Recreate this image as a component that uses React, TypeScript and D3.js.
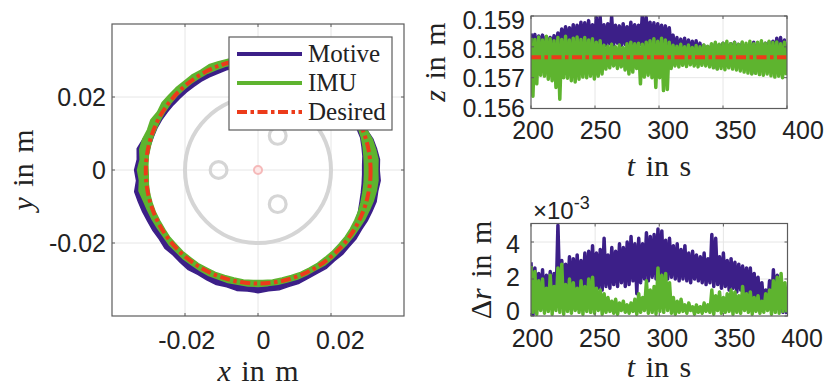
import React from "react";
import * as d3 from "d3";

// ---------------- Left panel: x-y trajectory ----------------
// Radii (mm, measured from the origin) of the trace band, sampled every 5 deg (0..355)
const angleStep = 5;
const motiveOuterMm = [
  33.2, 33.4, 33.0, 32.6, 31.8, 31.2, 30.8, 30.7, 30.6, 30.6, 30.4, 30.5,
  30.3, 30.4, 30.2, 30.3, 30.2, 30.1, 30.2, 30.1, 30.2, 30.3, 30.1, 30.4,
  30.2, 30.5, 30.4, 30.6, 30.8, 30.7, 31.2, 31.3, 31.8, 32.6, 33.6, 33.2,
  33.8, 33.4, 34.3, 33.9, 33.6, 33.3, 33.2, 33.0, 33.3, 32.9, 33.1, 33.3,
  33.0, 33.2, 33.4, 33.1, 33.5, 33.3, 33.6, 33.2, 33.3, 33.0, 33.0, 32.7,
  32.6, 32.8, 32.5, 32.7, 32.6, 32.8, 32.7, 33.0, 33.2, 33.5, 33.3, 33.6,
];
const motiveInnerMm = [
  28.7, 29.0, 29.2, 29.5, 29.4, 29.2, 29.0, 29.0, 28.9, 28.9, 28.8, 28.8,
  28.8, 28.7, 28.7, 28.7, 28.7, 28.7, 28.7, 28.7, 28.7, 28.8, 28.7, 28.8,
  28.9, 28.9, 29.0, 29.1, 29.3, 29.5, 29.8, 30.0, 30.1, 30.3, 30.4, 30.5,
  30.5, 30.7, 30.8, 31.0, 31.1, 31.2, 31.3, 31.3, 31.4, 31.3, 31.4, 31.3,
  31.4, 31.3, 31.4, 31.4, 31.3, 31.4, 31.4, 31.3, 31.3, 31.2, 31.1, 31.1,
  31.0, 30.9, 30.7, 30.6, 30.5, 30.4, 30.2, 29.8, 29.3, 29.0, 28.8, 28.7,
];
const imuOuterMm = [
  32.8, 33.0, 32.7, 32.4, 31.8, 31.3, 31.2, 31.1, 31.0, 31.0, 31.0, 30.9,
  31.0, 30.9, 30.9, 30.8, 30.9, 30.8, 30.9, 30.9, 31.1, 31.4, 31.6, 31.8,
  31.5, 31.7, 31.6, 31.8, 31.9, 32.1, 31.8, 32.4, 32.2, 32.7, 32.9, 32.4,
  33.0, 32.6, 33.1, 32.5, 32.2, 32.0, 31.8, 31.7, 31.8, 31.7, 31.8, 31.7,
  31.8, 31.9, 31.8, 31.9, 31.8, 31.9, 31.9, 31.8, 31.8, 31.7, 31.8, 31.7,
  31.6, 31.8, 31.7, 31.6, 31.7, 31.8, 31.9, 32.2, 32.4, 32.7, 32.9, 33.0,
];
const imuInnerMm = [
  29.2, 29.3, 29.5, 29.7, 29.8, 29.9, 29.9, 29.8, 29.7, 29.7, 29.6, 29.6,
  29.6, 29.5, 29.6, 29.5, 29.5, 29.5, 29.6, 29.6, 29.7, 29.8, 29.8, 29.9,
  29.9, 30.0, 30.0, 30.1, 30.1, 30.1, 30.1, 30.1, 30.2, 30.2, 30.3, 30.2,
  30.1, 30.3, 30.4, 30.4, 30.4, 30.3, 30.3, 30.4, 30.3, 30.4, 30.3, 30.4,
  30.3, 30.4, 30.3, 30.3, 30.4, 30.3, 30.3, 30.4, 30.3, 30.3, 30.4, 30.3,
  30.3, 30.2, 30.2, 30.1, 30.1, 30.0, 29.9, 29.8, 29.6, 29.4, 29.3, 29.2,
];
const desiredCenter = [0.00005, -0.0003];
const desiredRadius = 0.0308;
// grey body outline
const bodyRadius = 0.02;
const holeX = [-0.0108, 0.0054, 0.0054];
const holeY = [0, 0.00935, -0.00935];
const holeRadius = 0.0023;
const centerMarkRadius = 0.0011;
const xyTicks = [-0.02, 0, 0.02];
const xyTickLabels = ["-0.02", "0", "0.02"];

// ---------------- Right panels: time series ----------------
const tStart = 200;
const tStep = 3;
const motiveZHi = [
  0.15843, 0.15840, 0.15835, 0.15838, 0.15832, 0.15830, 0.15836, 0.15845, 0.15858, 0.15865,
  0.15862, 0.15872, 0.15870, 0.15880, 0.15878, 0.15885, 0.15872, 0.15895, 0.15898, 0.15872,
  0.15875, 0.15898, 0.15870, 0.15868, 0.15875, 0.15865, 0.15880, 0.15872, 0.15870, 0.15905,
  0.15895, 0.15880, 0.15878, 0.15875, 0.15870, 0.15868, 0.15862, 0.15838, 0.15830, 0.15825,
  0.15828, 0.15822, 0.15818, 0.15820, 0.15812, 0.15805, 0.15800, 0.15805, 0.15810, 0.15806,
  0.15812, 0.15808, 0.15810, 0.15815, 0.15808, 0.15812, 0.15806, 0.15810, 0.15815, 0.15808,
  0.15812, 0.15812, 0.15815, 0.15818, 0.15828, 0.15830, 0.15822,
];
const motiveZLo = [
  0.15800, 0.15790, 0.15795, 0.15805, 0.15790, 0.15798, 0.15792, 0.15800, 0.15805, 0.15798,
  0.15808, 0.15800, 0.15805, 0.15810, 0.15802, 0.15808, 0.15800, 0.15812, 0.15808, 0.15805,
  0.15810, 0.15806, 0.15812, 0.15804, 0.15808, 0.15810, 0.15806, 0.15812, 0.15808, 0.15805,
  0.15810, 0.15806, 0.15802, 0.15808, 0.15804, 0.15800, 0.15795, 0.15770, 0.15765, 0.15760,
  0.15758, 0.15762, 0.15755, 0.15760, 0.15752, 0.15745, 0.15748, 0.15740, 0.15730, 0.15745,
  0.15750, 0.15748, 0.15752, 0.15745, 0.15750, 0.15748, 0.15740, 0.15715, 0.15720, 0.15745,
  0.15748, 0.15750, 0.15752, 0.15755, 0.15750, 0.15758, 0.15760,
];
const imuZHi = [
  0.15829, 0.15824, 0.15832, 0.15822, 0.15834, 0.15826, 0.15820, 0.15830, 0.15824, 0.15834,
  0.15822, 0.15828, 0.15832, 0.15824, 0.15830, 0.15822, 0.15826, 0.15815, 0.15820, 0.15805,
  0.15802, 0.15808, 0.15800, 0.15806, 0.15798, 0.15810, 0.15815, 0.15810, 0.15812, 0.15808,
  0.15815, 0.15820, 0.15826, 0.15818, 0.15828, 0.15822, 0.15815, 0.15805, 0.15802, 0.15808,
  0.15800, 0.15806, 0.15798, 0.15804, 0.15800, 0.15806, 0.15802, 0.15810, 0.15815, 0.15808,
  0.15812, 0.15818, 0.15810, 0.15814, 0.15808, 0.15816, 0.15812, 0.15818, 0.15810, 0.15815,
  0.15820, 0.15812, 0.15818, 0.15814, 0.15816, 0.15810, 0.15815,
];
const imuZLo = [
  0.15640, 0.15680, 0.15708, 0.15705, 0.15695, 0.15690, 0.15668, 0.15630, 0.15700, 0.15698,
  0.15690, 0.15686, 0.15695, 0.15702, 0.15700, 0.15705, 0.15696, 0.15705, 0.15712, 0.15728,
  0.15732, 0.15738, 0.15730, 0.15735, 0.15725, 0.15712, 0.15718, 0.15730, 0.15680, 0.15702,
  0.15708, 0.15700, 0.15668, 0.15700, 0.15658, 0.15662, 0.15730, 0.15738, 0.15735, 0.15740,
  0.15736, 0.15742, 0.15738, 0.15735, 0.15740, 0.15738, 0.15735, 0.15732, 0.15728, 0.15730,
  0.15726, 0.15732, 0.15728, 0.15725, 0.15722, 0.15718, 0.15715, 0.15712, 0.15714, 0.15710,
  0.15708, 0.15712, 0.15706, 0.15702, 0.15705, 0.15700, 0.15708,
];
const zDesired = 0.15766;
// Delta r in units of 1e-3 m
const motiveDrHi = [
  2.9, 2.6, 2.3, 2.5, 2.2, 2.4, 2.3, 4.9, 3.0, 2.8,
  3.2, 3.1, 3.3, 3.0, 3.4, 3.5, 3.8, 3.4, 3.6, 4.2,
  3.3, 3.7, 3.5, 3.9, 3.7, 4.0, 4.3, 3.9, 4.2, 3.9,
  4.5, 4.3, 4.4, 4.7, 4.6, 4.1, 4.2, 3.8, 3.9, 3.6,
  3.8, 3.4, 3.5, 3.3, 3.2, 3.4, 3.1, 4.4, 4.2, 3.2,
  3.4, 3.0, 3.1, 2.9, 2.8, 2.7, 2.6, 2.6, 2.3, 2.1,
  1.8, 1.4, 1.9, 2.5, 2.2, 1.9, 1.4,
];
const motiveDrLo = [
  0.05, 0.4, 0.6, 0.3, 0.8, 0.5, 0.7, 1.0, 0.9, 1.2,
  1.0, 1.3, 1.1, 1.4, 1.2, 1.5, 1.3, 1.5, 1.4, 1.6,
  1.5, 1.7, 1.6, 1.8, 1.6, 1.7, 1.9, 1.2, 1.8, 2.0,
  1.9, 2.1, 2.0, 2.2, 2.1, 2.0, 2.1, 2.0, 1.9, 2.0,
  1.9, 1.8, 2.0, 1.9, 1.8, 1.7, 1.8, 1.6, 1.7, 1.5,
  1.6, 1.4, 1.5, 1.3, 1.4, 1.2, 1.1, 1.0, 0.9, 0.8,
  0.6, 0.5, 0.4, 0.3, 0.5, 0.2, 0.1,
];
const imuDrHi = [
  2.7, 2.4, 1.9, 2.0, 1.5, 2.2, 1.6, 2.6, 2.8, 1.7,
  2.0, 1.8, 1.5, 1.9, 1.6, 2.0, 2.1, 1.5, 1.4, 1.2,
  1.0, 0.8, 0.9, 0.7, 0.8, 0.6, 0.7, 0.9, 1.2, 1.0,
  1.9, 1.4, 1.6, 2.6, 2.2, 2.3, 1.8, 1.0, 0.8, 0.9,
  0.6, 0.7, 0.5, 0.6, 0.5, 0.7, 0.6, 1.4, 1.1, 1.3,
  1.0, 1.2, 1.4, 1.3, 1.1, 1.6, 1.2, 1.3, 1.0, 1.1,
  0.8, 1.2, 1.4, 1.9, 2.1, 2.3, 1.8,
];
const imuDrLo = [
  0.2, 0.1, 0.3, 0.15, 0.25, 0.1, 0.3, 0.2, 0.1, 0.25,
  0.15, 0.3, 0.2, 0.1, 0.25, 0.2, 0.15, 0.3, 0.1, 0.2,
  0.25, 0.15, 0.1, 0.3, 0.2, 0.15, 0.25, 0.1, 0.2, 0.3,
  0.15, 0.2, 0.1, 0.25, 0.2, 0.3, 0.15, 0.1, 0.2, 0.25,
  0.15, 0.3, 0.1, 0.2, 0.15, 0.25, 0.2, 0.1, 0.3, 0.15,
  0.2, 0.25, 0.1, 0.2, 0.15, 0.3, 0.2, 0.1, 0.25, 0.15,
  0.2, 0.3, 0.1, 0.2, 0.15, 0.25, 0.2,
];
const tTicks = [200, 250, 300, 350, 400];
const zTicks = [0.156, 0.157, 0.158, 0.159];
const zTickLabels = ["0.156", "0.157", "0.158", "0.159"];
const drTicks = [0, 2, 4];
const legendNames = ["Motive", "IMU", "Desired"];

const C = {
  motive: "#3c1f88",
  imu: "#5eb42f",
  desired: "#ec3b1a",
  ring: "#d5d5d5",
  mark: "#f5b9b9",
  grid: "#e6e6e6",
  box: "#5c5c5c",
  text: "#222222",
};
const SANS = "'Liberation Sans', Arial, Helvetica, sans-serif";
const SERIF = "'Liberation Serif', 'Times New Roman', serif";
const DASH = "10 3.5 3.5 3.5";

function Frame({ x0, x1, y0, y1 }: any) {
  return (
    <rect x={x0} y={y0} width={x1 - x0} height={y1 - y0} fill="none" stroke={C.box} strokeWidth={1.2} />
  );
}

export default function App() {
  // ---- left panel scales
  const xL = d3.scaleLinear().domain([-0.04, 0.04]).range([112, 404]);
  const yL = d3.scaleLinear().domain([-0.04, 0.04]).range([316, 24]);
  const xLlab = d3.scaleLinear().domain([-0.04, 0.04]).range([110, 417]);
  const rPx = (r: number) => xL(r) - xL(0);
  const angles = motiveOuterMm.map((_, i) => i * angleStep);

  const band = (outer: number[], inner: number[]) => {
    const line = d3
      .lineRadial<number>()
      .angle((_, i) => Math.PI / 2 - (angles[i] * Math.PI) / 180)
      .radius((d) => rPx(d * 1e-3))
      .curve(d3.curveLinearClosed);
    const inv = d3
      .lineRadial<number>()
      .angle((_, i) => Math.PI / 2 - ((angles[i] + angleStep / 2) * Math.PI) / 180)
      .radius((d) => rPx(d * 1e-3))
      .curve(d3.curveLinearClosed);
    return (line(outer) || "") + (inv(inner) || "");
  };

  // ---- right panel scales
  const xT = d3.scaleLinear().domain([200, 400]).range([531, 787]);
  const yT = d3.scaleLinear().domain([0.156, 0.159]).range([108.5, 16]);
  const xTlab = d3.scaleLinear().domain([200, 400]).range([533, 803]);
  const yTlab = d3.scaleLinear().domain([0.156, 0.159]).range([107.5, 20]);
  const xB = d3.scaleLinear().domain([200, 400]).range([531, 787.5]);
  const yB = d3.scaleLinear().domain([0, 5]).range([316, 223.5]);
  const xBlab = d3.scaleLinear().domain([200, 400]).range([532.5, 802]);
  const yBlab = d3.scaleLinear().domain([0, 4]).range([310.5, 244]);

  const zig = (hi: number[], lo: number[]) =>
    hi.flatMap((h, i) => [
      [tStart + i * tStep, h],
      [tStart + i * tStep + tStep / 2, lo[i]],
    ]) as [number, number][];
  const lineT = d3.line<[number, number]>().x((d) => xT(d[0])).y((d) => yT(d[1]));
  const lineB = d3.line<[number, number]>().x((d) => xB(d[0])).y((d) => yB(d[1]));

  const tMin = tStart;
  const tMax = tStart + (motiveZHi.length - 1) * tStep + tStep / 2;

  return (
    <div style={{ position: "absolute", left: 0, top: 0 }}>
      <svg width={829} height={386} viewBox="0 0 829 386" style={{ display: "block", background: "#fff" }}>
        <defs>
          <clipPath id="clipT">
            <rect x={xT(200)} y={yT(0.159)} width={xT(400) - xT(200)} height={yT(0.156) - yT(0.159)} />
          </clipPath>
          <clipPath id="clipB">
            <rect x={xB(200)} y={yB(5)} width={xB(400) - xB(200)} height={yB(0) - yB(5)} />
          </clipPath>
        </defs>

        {/* ================= LEFT PANEL ================= */}
        <g>
          <rect x={112} y={24} width={292} height={292} fill="#fff" />
          {xyTicks.map((v) => (
            <line key={"gx" + v} x1={xL(v)} x2={xL(v)} y1={yL(-0.04)} y2={yL(0.04)} stroke={C.grid} strokeWidth={1} />
          ))}
          {xyTicks.map((v) => (
            <line key={"gy" + v} x1={xL(-0.04)} x2={xL(0.04)} y1={yL(v)} y2={yL(v)} stroke={C.grid} strokeWidth={1} />
          ))}
          {/* grey body */}
          <circle cx={xL(0)} cy={yL(0)} r={rPx(bodyRadius)} fill="none" stroke={C.ring} strokeWidth={4} />
          {holeX.map((hx, i) => (
            <circle key={"h" + i} cx={xL(hx)} cy={yL(holeY[i])} r={rPx(holeRadius)} fill="none" stroke={C.ring} strokeWidth={3.2} />
          ))}
          <circle cx={xL(0)} cy={yL(0)} r={rPx(centerMarkRadius)} fill="#fde8e8" stroke={C.mark} strokeWidth={2} />
          {/* traces */}
          <g transform={`translate(${xL(0)},${yL(0)})`}>
            <path d={band(motiveOuterMm, motiveInnerMm)} fill={C.motive} fillRule="evenodd" stroke={C.motive} strokeWidth={1.5} strokeLinejoin="round" />
            <path d={band(imuOuterMm, imuInnerMm)} fill={C.imu} fillRule="evenodd" stroke={C.imu} strokeWidth={1.5} strokeLinejoin="round" />
          </g>
          <circle cx={xL(desiredCenter[0])} cy={yL(desiredCenter[1])} r={rPx(desiredRadius)} fill="none" stroke={C.desired} strokeWidth={4} strokeDasharray={DASH} />
          <Frame x0={112} x1={404} y0={24} y1={316} />
          {xyTicks.map((v) => (
            <g key={"tk" + v} stroke={C.box} strokeWidth={1}>
              <line x1={xL(v)} x2={xL(v)} y1={316} y2={313} />
              <line x1={xL(v)} x2={xL(v)} y1={24} y2={27} />
              <line x1={112} x2={115} y1={yL(v)} y2={yL(v)} />
              <line x1={404} x2={401} y1={yL(v)} y2={yL(v)} />
            </g>
          ))}
          {/* tick labels */}
          {xyTicks.map((v, i) => (
            <text key={"xl" + v} x={xLlab(v)} y={349} fontFamily={SANS} fontSize={25} fill={C.text} textAnchor="middle">
              {xyTickLabels[i]}
            </text>
          ))}
          {xyTicks.map((v, i) => (
            <text key={"yl" + v} x={106} y={yL(v)} dy="0.36em" fontFamily={SANS} fontSize={25} fill={C.text} textAnchor="end">
              {xyTickLabels[i]}
            </text>
          ))}
          <text x={258} y={381} fontFamily={SERIF} fontSize={30} fill={C.text} textAnchor="middle" style={{ wordSpacing: "3px" }}>
            <tspan fontStyle="italic">x</tspan> in m
          </text>
          <text transform="translate(33,170) rotate(-90)" fontFamily={SERIF} fontSize={30} fill={C.text} textAnchor="middle" style={{ wordSpacing: "3px" }}>
            <tspan fontStyle="italic">y</tspan> in m
          </text>
          {/* legend */}
          <rect x={229} y={37} width={163} height={93} fill="#fff" stroke={C.box} strokeWidth={1.2} />
          {legendNames.map((n, i) => (
            <g key={n}>
              <line
                x1={237}
                x2={302}
                y1={54 + i * 29}
                y2={54 + i * 29}
                stroke={[C.motive, C.imu, C.desired][i]}
                strokeWidth={4}
                strokeDasharray={i === 2 ? DASH : undefined}
              />
              <text x={308} y={62 + i * 29} fontFamily={SERIF} fontSize={25} fill={C.text}>
                {n}
              </text>
            </g>
          ))}
        </g>

        {/* ================= TOP RIGHT: z ================= */}
        <g>
          {tTicks.slice(1, -1).map((t) => (
            <line key={"tg" + t} x1={xT(t)} x2={xT(t)} y1={yT(0.156)} y2={yT(0.159)} stroke={C.grid} />
          ))}
          {zTicks.slice(1, -1).map((z) => (
            <line key={"zg" + z} x1={xT(200)} x2={xT(400)} y1={yT(z)} y2={yT(z)} stroke={C.grid} />
          ))}
          <g clipPath="url(#clipT)">
            <path d={lineT(zig(motiveZHi, motiveZLo)) || ""} fill="none" stroke={C.motive} strokeWidth={3.5} strokeLinejoin="round" />
            <path d={lineT(zig(imuZHi, imuZLo)) || ""} fill="none" stroke={C.imu} strokeWidth={3.5} strokeLinejoin="round" />
            <line x1={xT(tMin)} x2={xT(tMax)} y1={yT(zDesired)} y2={yT(zDesired)} stroke={C.desired} strokeWidth={4} strokeDasharray={DASH} />
          </g>
          <Frame x0={xT(200)} x1={xT(400)} y0={yT(0.159)} y1={yT(0.156)} />
          {tTicks.map((t) => (
            <g key={"tt" + t} stroke={C.box}>
              <line x1={xT(t)} x2={xT(t)} y1={yT(0.156)} y2={yT(0.156) - 3} />
              <line x1={xT(t)} x2={xT(t)} y1={yT(0.159)} y2={yT(0.159) + 3} />
            </g>
          ))}
          {zTicks.map((z) => (
            <g key={"zt" + z} stroke={C.box}>
              <line x1={xT(200)} x2={xT(200) + 3} y1={yT(z)} y2={yT(z)} />
              <line x1={xT(400)} x2={xT(400) - 3} y1={yT(z)} y2={yT(z)} />
            </g>
          ))}
          {tTicks.map((t) => (
            <text key={"tl" + t} x={xTlab(t)} y={139} fontFamily={SANS} fontSize={25} fill={C.text} textAnchor="middle">
              {t}
            </text>
          ))}
          {zTicks.map((z, i) => (
            <text key={"zl" + z} x={525} y={yTlab(z)} dy="0.36em" fontFamily={SANS} fontSize={25} fill={C.text} textAnchor="end">
              {zTickLabels[i]}
            </text>
          ))}
          <text x={659} y={176} fontFamily={SERIF} fontSize={30} fill={C.text} textAnchor="middle" style={{ wordSpacing: "3px" }}>
            <tspan fontStyle="italic">t</tspan> in s
          </text>
          <text transform="translate(445,62) rotate(-90)" fontFamily={SERIF} fontSize={30} fill={C.text} textAnchor="middle" style={{ wordSpacing: "3px" }}>
            <tspan fontStyle="italic">z</tspan> in m
          </text>
        </g>

        {/* ================= BOTTOM RIGHT: delta r ================= */}
        <g>
          {tTicks.slice(1, -1).map((t) => (
            <line key={"bg" + t} x1={xB(t)} x2={xB(t)} y1={yB(0)} y2={yB(5)} stroke={C.grid} />
          ))}
          {drTicks.slice(1).map((v) => (
            <line key={"rg" + v} x1={xB(200)} x2={xB(400)} y1={yB(v)} y2={yB(v)} stroke={C.grid} />
          ))}
          <g clipPath="url(#clipB)">
            <path d={lineB(zig(motiveDrHi, motiveDrLo)) || ""} fill="none" stroke={C.motive} strokeWidth={3.5} strokeLinejoin="round" />
            <path d={lineB(zig(imuDrHi, imuDrLo)) || ""} fill="none" stroke={C.imu} strokeWidth={3.5} strokeLinejoin="round" />
          </g>
          <Frame x0={xB(200)} x1={xB(400)} y0={yB(5)} y1={yB(0)} />
          {tTicks.map((t) => (
            <g key={"bt" + t} stroke={C.box}>
              <line x1={xB(t)} x2={xB(t)} y1={yB(0)} y2={yB(0) - 3} />
              <line x1={xB(t)} x2={xB(t)} y1={yB(5)} y2={yB(5) + 3} />
            </g>
          ))}
          {drTicks.map((v) => (
            <g key={"rt" + v} stroke={C.box}>
              <line x1={xB(200)} x2={xB(200) + 3} y1={yB(v)} y2={yB(v)} />
              <line x1={xB(400)} x2={xB(400) - 3} y1={yB(v)} y2={yB(v)} />
            </g>
          ))}
          {tTicks.map((t) => (
            <text key={"bl" + t} x={xBlab(t)} y={347} fontFamily={SANS} fontSize={25} fill={C.text} textAnchor="middle">
              {t}
            </text>
          ))}
          {drTicks.map((v) => (
            <text key={"rl" + v} x={520} y={yBlab(v)} dy="0.36em" fontFamily={SANS} fontSize={25} fill={C.text} textAnchor="end">
              {v}
            </text>
          ))}
          <text x={533} y={219} fontFamily={SANS} fontSize={24} fill={C.text}>
            ×10
            <tspan dy={-10} fontSize={18}>-3</tspan>
          </text>
          <text x={659} y={377} fontFamily={SERIF} fontSize={30} fill={C.text} textAnchor="middle" style={{ wordSpacing: "3px" }}>
            <tspan fontStyle="italic">t</tspan> in s
          </text>
          <text transform="translate(491,270) rotate(-90)" fontFamily={SERIF} fontSize={30} fill={C.text} textAnchor="middle" style={{ wordSpacing: "3px" }}>
            Δ<tspan fontStyle="italic">r</tspan> in m
          </text>
        </g>
      </svg>
    </div>
  );
}
